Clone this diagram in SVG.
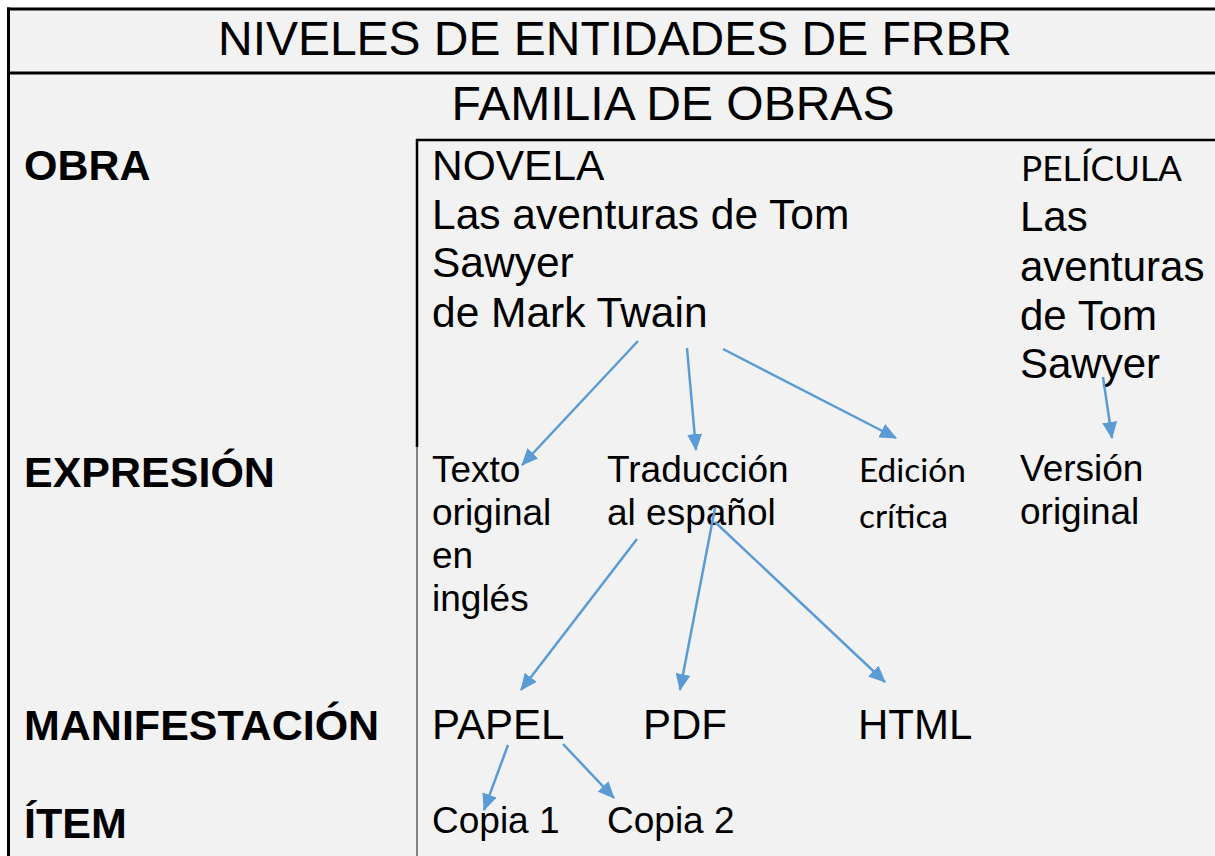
<svg xmlns="http://www.w3.org/2000/svg" width="1215" height="856" viewBox="0 0 1215 856">
<style>
.t{font-family:"Liberation Sans",Arial,sans-serif;fill:#000}
.b{font-family:"Liberation Sans",Arial,sans-serif;font-weight:bold;font-size:43px;fill:#000}
.c{font-family:Lato,"Open Sans",sans-serif;fill:#000}
.ln{fill:none;stroke:#000}
.ar{fill:none;stroke:#5b9bd5;stroke-width:2.5;marker-end:url(#ah)}
</style>
<defs>
<marker id="ah" markerUnits="userSpaceOnUse" markerWidth="17" markerHeight="15" refX="16" refY="7.5" orient="auto">
<path d="M0,0 L17,7.5 L0,15 z" fill="#5b9bd5"/>
</marker>
</defs>
<rect x="0" y="0" width="1215" height="856" fill="#ffffff"/>
<rect x="8.5" y="9" width="1210" height="850" fill="#f2f2f2"/>
<g id="frame">
<line class="ln" x1="8.5" y1="7.5" x2="8.5" y2="856" stroke-width="3"/>
<line class="ln" x1="7" y1="9" x2="1215" y2="9" stroke-width="3"/>
<line class="ln" x1="7" y1="73" x2="1215" y2="73" stroke-width="3"/>
<line class="ln" x1="416" y1="140" x2="1215" y2="140" stroke-width="2.5"/>
<line class="ln" x1="417" y1="139" x2="417" y2="447" stroke-width="2.5"/>
<line x1="417" y1="447" x2="417" y2="856" stroke="#808080" stroke-width="2"/>
</g>
<g id="title"><text class="t" x="615" y="55" font-size="48" text-anchor="middle" textLength="794" lengthAdjust="spacingAndGlyphs">NIVELES DE ENTIDADES DE FRBR</text></g>
<g id="familia"><text class="t" x="673" y="120" font-size="48" text-anchor="middle">FAMILIA DE OBRAS</text></g>
<g id="lbl-obra"><text class="b" x="24" y="180">OBRA</text></g>
<g id="lbl-expresion"><text class="b" x="24" y="487">EXPRESIÓN</text></g>
<g id="lbl-manifestacion"><text class="b" x="24" y="740">MANIFESTACIÓN</text></g>
<g id="lbl-item"><text class="b" x="24" y="838">ÍTEM</text></g>
<g id="novela"><text class="t" font-size="42.5" x="432" y="180">NOVELA<tspan x="432" y="229">Las aventuras de Tom</tspan><tspan x="432" y="277">Sawyer</tspan><tspan x="432" y="327">de Mark Twain</tspan></text></g>
<g id="pelicula"><text class="c" x="1021" y="181" font-size="34" textLength="161" lengthAdjust="spacingAndGlyphs">PELÍCULA</text>
<text class="t" font-size="42" x="1020" y="231">Las<tspan x="1020" y="281">aventuras</tspan><tspan x="1020" y="330">de Tom</tspan><tspan x="1020" y="378">Sawyer</tspan></text></g>
<g id="texto-original"><text class="t" font-size="37" x="432" y="482">Texto<tspan x="432" y="525">original</tspan><tspan x="432" y="568">en</tspan><tspan x="432" y="611">inglés</tspan></text></g>
<g id="traduccion"><text class="t" font-size="37" x="607" y="482">Traducción<tspan x="607" y="525">al español</tspan></text></g>
<g id="edicion"><text class="c" font-size="32" x="859" y="482" textLength="107" lengthAdjust="spacingAndGlyphs">Edición</text><text class="c" font-size="32" x="859" y="528" textLength="89" lengthAdjust="spacingAndGlyphs">crítica</text></g>
<g id="version"><text class="t" font-size="37" x="1020" y="481">Versión<tspan x="1020" y="524">original</tspan></text></g>
<g id="papel"><text class="t" font-size="42" x="432" y="739">PAPEL</text></g>
<g id="pdf"><text class="t" font-size="42" x="643" y="739">PDF</text></g>
<g id="html"><text class="t" font-size="42" x="858" y="739">HTML</text></g>
<g id="copia1"><text class="t" font-size="37" x="432" y="833">Copia 1</text></g>
<g id="copia2"><text class="t" font-size="37" x="607" y="833">Copia 2</text></g>
<g id="connectors">
<line class="ar" x1="638" y1="341" x2="522" y2="465"/>
<line class="ar" x1="687" y1="348" x2="696" y2="450"/>
<line class="ar" x1="723" y1="349" x2="896" y2="438"/>
<line class="ar" x1="1103" y1="377" x2="1112" y2="438"/>
<line class="ar" x1="637" y1="539" x2="521" y2="690"/>
<line class="ar" x1="715" y1="508" x2="680" y2="690"/>
<line class="ar" x1="715" y1="522" x2="885" y2="682"/>
<line class="ar" x1="508" y1="745" x2="484" y2="810"/>
<line class="ar" x1="563" y1="744" x2="614" y2="798"/>
</g>
</svg>
